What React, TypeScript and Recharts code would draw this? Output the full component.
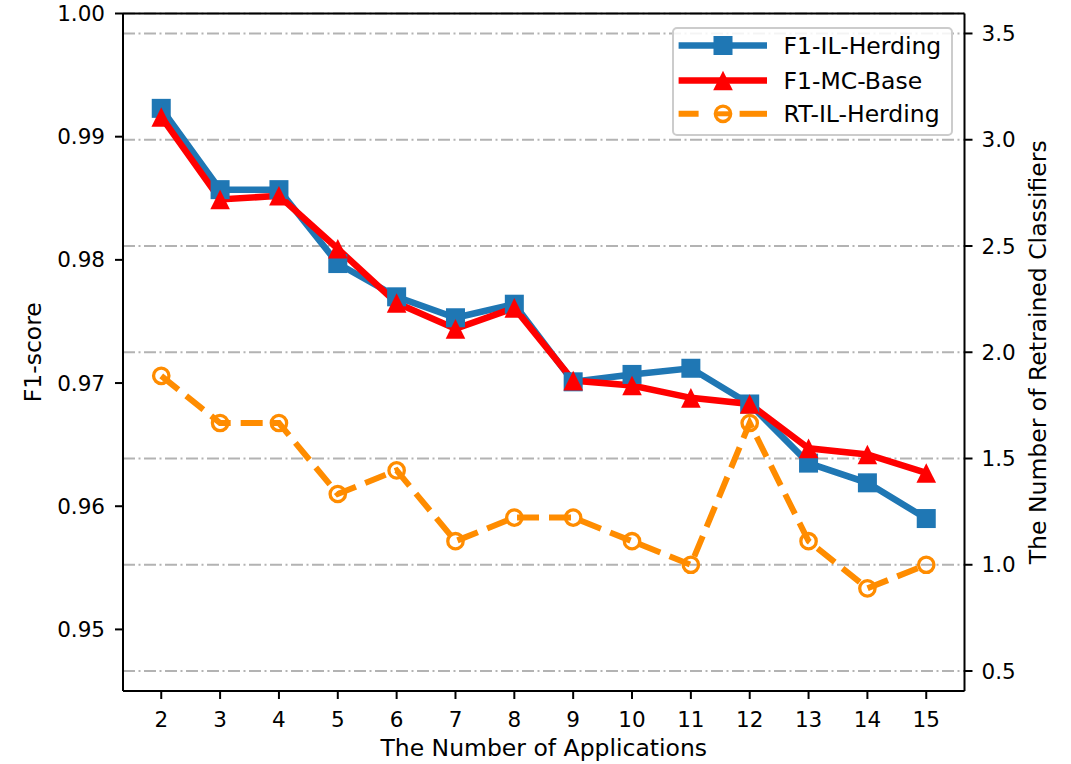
import React from 'react';
import {
  ComposedChart,
  Line,
  XAxis,
  YAxis,
  CartesianGrid,
  Legend,
  ReferenceLine,
} from 'recharts';

// ---------- data ----------
const applications = [2, 3, 4, 5, 6, 7, 8, 9, 10, 11, 12, 13, 14, 15];
const f1ILHerding = [0.9923, 0.9857, 0.9857, 0.9797, 0.9770, 0.9753, 0.9764, 0.9701, 0.9707, 0.9712, 0.9683, 0.9635, 0.9619, 0.9590];
const f1MCBase = [0.9916, 0.9849, 0.9852, 0.9809, 0.9765, 0.9744, 0.9761, 0.9702, 0.9698, 0.9688, 0.9683, 0.9647, 0.9642, 0.9627];
const rtILHerding = [1.889, 1.667, 1.667, 1.333, 1.444, 1.111, 1.222, 1.222, 1.111, 1.0, 1.667, 1.111, 0.889, 1.0];
const seriesNames = ['F1-IL-Herding', 'F1-MC-Base', 'RT-IL-Herding'];
const xTicks = [2, 3, 4, 5, 6, 7, 8, 9, 10, 11, 12, 13, 14, 15];
const leftTicks = [0.95, 0.96, 0.97, 0.98, 0.99, 1.0];
const rightTicks = [0.5, 1.0, 1.5, 2.0, 2.5, 3.0, 3.5];
const xDomain = [1.35, 15.65];
const leftDomain = [0.945, 1.0];
const rightDomain = [0.406, 3.594];

const data = applications.map((x, i) => ({
  x,
  f1IL: f1ILHerding[i],
  f1MC: f1MCBase[i],
  rt: rtILHerding[i],
}));

// ---------- styles ----------
const BLUE = '#1f77b4';
const RED = '#ff0000';
const ORANGE = '#ff8c00';
const FONT = "'DejaVu Sans', sans-serif";
const TICK_FS = 21.5;
const LABEL_FS = 23.5;

const SquareDot = (props: any) => {
  const { cx, cy, index } = props;
  if (cx == null || cy == null) return null;
  return <rect key={`sq-${index}`} x={cx - 9.5} y={cy - 9.5} width={19} height={19} fill={BLUE} />;
};

const TriangleDot = (props: any) => {
  const { cx, cy, index } = props;
  if (cx == null || cy == null) return null;
  const h = 9.8;
  return (
    <polygon
      key={`tr-${index}`}
      points={`${cx},${cy - h} ${cx - h},${cy + h} ${cx + h},${cy + h}`}
      fill={RED}
    />
  );
};

const CircleDot = (props: any) => {
  const { cx, cy, index } = props;
  if (cx == null || cy == null) return null;
  return <circle key={`ci-${index}`} cx={cx} cy={cy} r={7.7} fill="none" stroke={ORANGE} strokeWidth={3.3} />;
};

const LegendBox = () => {
  const W = 281;
  const H = 109;
  const rows = [18.5, 53.5, 86.8];
  const x0 = 6.6;
  const x1 = 95;
  const mx = 51;
  const tx = 111.6;
  return (
    <div
      style={{
        width: W,
        height: H,
        position: 'relative',
        boxSizing: 'border-box',
        border: '2px solid #cccccc',
        borderRadius: 5,
        background: 'rgba(255,255,255,0.85)',
      }}
    >
      <svg width={W} height={H} style={{ position: 'absolute', left: -2, top: -2 }}>
        <line x1={x0} y1={rows[0]} x2={x1} y2={rows[0]} stroke={BLUE} strokeWidth={6.5} />
        <rect x={mx - 9.5} y={rows[0] - 9.5} width={19} height={19} fill={BLUE} />
        <line x1={x0} y1={rows[1]} x2={x1} y2={rows[1]} stroke={RED} strokeWidth={6.5} />
        <polygon
          points={`${mx},${rows[1] - 9.8} ${mx - 9.8},${rows[1] + 9.8} ${mx + 9.8},${rows[1] + 9.8}`}
          fill={RED}
        />
        <line x1={x0} y1={rows[2]} x2={x1} y2={rows[2]} stroke={ORANGE} strokeWidth={6} strokeDasharray="20 15 0 100" />
        <line x1={x0 + 61} y1={rows[2]} x2={x1} y2={rows[2]} stroke={ORANGE} strokeWidth={6} />
        <circle cx={mx} cy={rows[2]} r={7.7} fill="none" stroke={ORANGE} strokeWidth={3.3} />
        <line x1={mx - 6} y1={rows[2]} x2={mx + 6} y2={rows[2]} stroke={ORANGE} strokeWidth={5} />
        {seriesNames.map((n, i) => (
          <text
            key={n}
            x={tx}
            y={rows[i]}
            dy="0.36em"
            fontSize={LABEL_FS}
            fontFamily={FONT}
            fill="#000"
          >
            {n}
          </text>
        ))}
      </svg>
    </div>
  );
};

const XLabel = (props: any) => {
  const vb = props.viewBox || { x: 123, y: 691, width: 841.5, height: 73 };
  return (
    <text
      x={vb.x + vb.width / 2}
      y={vb.y + 65}
      textAnchor="middle"
      fontSize={LABEL_FS}
      fontFamily={FONT}
      fill="#000"
    >
      The Number of Applications
    </text>
  );
};

const LeftLabel = (props: any) => {
  const vb = props.viewBox || { x: 0, y: 13.5, width: 123, height: 677.5 };
  const cx = vb.x + 33;
  const cy = vb.y + vb.height / 2;
  return (
    <text
      x={cx}
      y={cy}
      dy="0.36em"
      transform={`rotate(-90 ${cx} ${cy})`}
      textAnchor="middle"
      fontSize={LABEL_FS}
      fontFamily={FONT}
      fill="#000"
    >
      F1-score
    </text>
  );
};

const RightLabel = (props: any) => {
  const vb = props.viewBox || { x: 964.5, y: 13.5, width: 106.5, height: 677.5 };
  const cx = vb.x + 73;
  const cy = vb.y + vb.height / 2;
  return (
    <text
      x={cx}
      y={cy}
      dy="0.36em"
      transform={`rotate(-90 ${cx} ${cy})`}
      textAnchor="middle"
      fontSize={LABEL_FS}
      fontFamily={FONT}
      fill="#000"
    >
      The Number of Retrained Classifiers
    </text>
  );
};

const tickStyle = { fill: '#000', fontSize: TICK_FS, fontFamily: FONT };
const axisLineStyle = { stroke: '#000', strokeWidth: 2 };

export default function App() {
  return (
    <div style={{ position: 'absolute', left: 0, top: 0, width: 1071, height: 764, background: '#fff' }}>
      <ComposedChart
        width={1071}
        height={764}
        data={data}
        margin={{ top: 13.5, right: 0, bottom: 0, left: 0 }}
      >
        <CartesianGrid
          yAxisId="right"
          vertical={false}
          horizontal={true}
          stroke="#b3b3b3"
          strokeWidth={2}
          strokeDasharray="12 3.5 2 3.5"
        />
        <XAxis
          dataKey="x"
          type="number"
          domain={xDomain}
          ticks={xTicks}
          interval={0}
          allowDataOverflow
          height={73}
          tick={tickStyle}
          tickSize={8}
          tickMargin={13}
          axisLine={axisLineStyle}
          tickLine={axisLineStyle}
          label={XLabel}
        />
        <YAxis
          yAxisId="left"
          orientation="left"
          type="number"
          domain={leftDomain}
          ticks={leftTicks}
          interval={0}
          allowDataOverflow
          width={123}
          tick={tickStyle}
          tickSize={8}
          tickMargin={10}
          tickFormatter={(v: number) => v.toFixed(2)}
          axisLine={axisLineStyle}
          tickLine={axisLineStyle}
          label={LeftLabel}
        />
        <YAxis
          yAxisId="right"
          orientation="right"
          type="number"
          domain={rightDomain}
          ticks={rightTicks}
          interval={0}
          allowDataOverflow
          width={106.5}
          tick={tickStyle}
          tickSize={8}
          tickMargin={9}
          tickFormatter={(v: number) => v.toFixed(1)}
          axisLine={axisLineStyle}
          tickLine={axisLineStyle}
          label={RightLabel}
        />
        <ReferenceLine yAxisId="left" y={1.0} stroke="#000" strokeWidth={2} />
        <Line
          yAxisId="left"
          type="linear"
          dataKey="f1IL"
          name={seriesNames[0]}
          stroke={BLUE}
          strokeWidth={6.5}
          dot={SquareDot}
          activeDot={false}
          isAnimationActive={false}
        />
        <Line
          yAxisId="left"
          type="linear"
          dataKey="f1MC"
          name={seriesNames[1]}
          stroke={RED}
          strokeWidth={6.5}
          dot={TriangleDot}
          activeDot={false}
          isAnimationActive={false}
        />
        <Line
          yAxisId="right"
          type="linear"
          dataKey="rt"
          name={seriesNames[2]}
          stroke={ORANGE}
          strokeWidth={6}
          strokeDasharray="22 10"
          dot={CircleDot}
          activeDot={false}
          isAnimationActive={false}
        />
        <Legend
          layout="vertical"
          align="center"
          verticalAlign="middle"
          wrapperStyle={{ left: 671.7, top: 26.7, width: 281, height: 109 }}
          content={LegendBox}
        />
      </ComposedChart>
    </div>
  );
}
